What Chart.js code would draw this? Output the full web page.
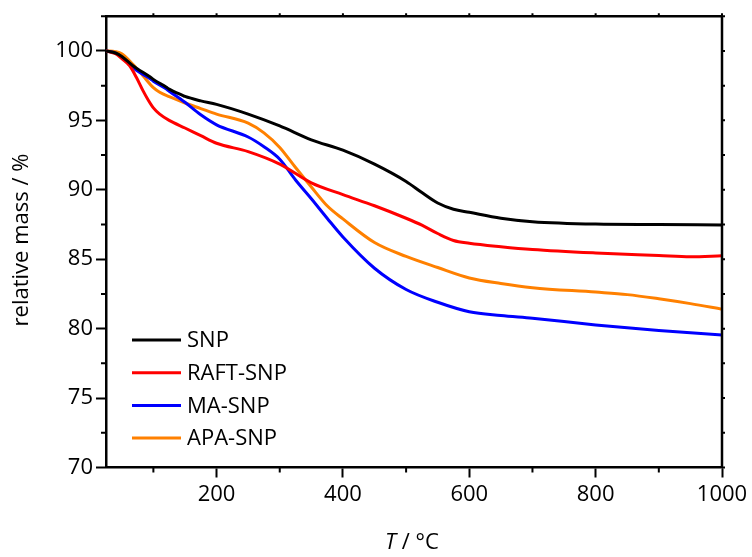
<!DOCTYPE html>
<html><head><meta charset="utf-8">
<script src="https://cdn.jsdelivr.net/npm/chart.js@4/dist/chart.umd.min.js"></script>
<style>html,body{margin:0;padding:0;background:#fff}#wrap{width:752px;height:557px}</style>
</head><body><div id="wrap"><canvas id="c" width="752" height="557"></canvas></div>
<script>
const seriesNames = ["SNP", "RAFT-SNP", "MA-SNP", "APA-SNP"];
const xTickValues = [200, 400, 600, 800, 1000];
const xMinorValues = [100, 300, 500, 700, 900];
const yTickValues = [70, 75, 80, 85, 90, 95, 100];
const yMinorValues = [72.5, 77.5, 82.5, 87.5, 92.5, 97.5, 102.5];

const snpT    = [25, 40, 50, 67.5, 75, 95, 100, 120, 125, 147, 150, 175, 200, 250, 300, 350, 400, 450, 500, 525, 550, 575, 600, 650, 700, 800, 900, 1000];
const snpMass = [100.0, 99.85, 99.6, 98.93, 98.7, 98.12, 97.95, 97.4, 97.25, 96.78, 96.72, 96.4, 96.15, 95.45, 94.6, 93.6, 92.85, 91.85, 90.6, 89.8, 89.05, 88.6, 88.38, 87.95, 87.7, 87.53, 87.5, 87.47];

const raftT    = [25, 40, 50, 62.5, 73, 83.5, 92, 100, 110, 125, 150, 175, 200, 250, 300, 350, 400, 450, 500, 525, 550, 575, 600, 650, 700, 800, 900, 950, 1000];
const raftMass = [100.0, 99.8, 99.45, 98.93, 98.1, 97.14, 96.45, 95.9, 95.45, 95.0, 94.45, 93.9, 93.35, 92.75, 91.85, 90.5, 89.65, 88.85, 87.95, 87.45, 86.85, 86.35, 86.15, 85.9, 85.7, 85.45, 85.27, 85.18, 85.25];

const maT    = [25, 40, 50, 67.5, 75, 95, 100, 120, 125, 147, 150, 175, 200, 250, 275, 300, 325, 350, 375, 400, 450, 500, 550, 600, 650, 700, 800, 900, 1000];
const maMass = [100.0, 99.85, 99.55, 98.82, 98.55, 98.0, 97.82, 97.27, 97.1, 96.4, 96.3, 95.4, 94.68, 93.8, 93.1, 92.2, 90.7, 89.35, 87.95, 86.6, 84.35, 82.82, 81.9, 81.22, 80.95, 80.75, 80.27, 79.87, 79.55];

const apaT    = [25, 40, 50, 67.5, 75, 83.5, 100, 110, 125, 150, 175, 200, 250, 275, 300, 325, 350, 375, 400, 450, 500, 550, 600, 650, 700, 800, 850, 900, 950, 1000];
const apaMass = [100.0, 99.95, 99.8, 99.04, 98.66, 98.21, 97.35, 97.02, 96.7, 96.25, 95.85, 95.45, 94.8, 94.1, 93.05, 91.6, 90.2, 88.85, 87.9, 86.2, 85.2, 84.4, 83.65, 83.25, 82.95, 82.63, 82.45, 82.15, 81.8, 81.4];

const colors = ["#000000", "#ff0000", "#0000ff", "#ff8000"];
const xs = [snpT, raftT, maT, apaT];
const ys = [snpMass, raftMass, maMass, apaMass];

const FONT = "'Open Sans', 'DejaVu Sans', sans-serif";

const datasets = seriesNames.map((name, i) => ({
  label: name,
  data: xs[i].map((t, k) => ({x: t, y: ys[i][k]})),
  borderColor: colors[i],
  backgroundColor: colors[i],
  borderWidth: 3,
  pointRadius: 0,
  fill: false,
  cubicInterpolationMode: 'monotone'
}));

const decor = {
  id: 'decor',
  afterDraw(chart) {
    const ctx = chart.ctx;
    const a = chart.chartArea;
    const sx = chart.scales.x, sy = chart.scales.y;
    ctx.save();
    ctx.strokeStyle = '#000';
    ctx.lineWidth = 2.5;
    ctx.beginPath();
    ctx.moveTo(a.left, a.top); ctx.lineTo(a.right, a.top);
    ctx.moveTo(a.right, a.top); ctx.lineTo(a.right, a.bottom);
    ctx.stroke();
    ctx.lineWidth = 2;
    ctx.beginPath();
    xMinorValues.forEach(v => { const p = sx.getPixelForValue(v); ctx.moveTo(p, a.bottom); ctx.lineTo(p, a.bottom + 5); });
    yMinorValues.forEach(v => { const p = sy.getPixelForValue(v); if (p >= a.top - 1) { ctx.moveTo(a.left, p); ctx.lineTo(a.left - 5, p); } });
    xTickValues.concat(xMinorValues).forEach(v => { const p = sx.getPixelForValue(v); ctx.moveTo(p, a.top); ctx.lineTo(p, a.top - 3); });
    yTickValues.concat(yMinorValues).forEach(v => { const p = sy.getPixelForValue(v); if (p >= a.top - 1) { ctx.moveTo(a.right, p); ctx.lineTo(a.right + 3, p); } });
    ctx.stroke();

    ctx.font = "22px " + FONT;
    ctx.textBaseline = 'middle';
    ctx.textAlign = 'left';
    chart.data.datasets.forEach((ds, i) => {
      const y = 340 + i * 32.7;
      ctx.strokeStyle = ds.borderColor;
      ctx.lineWidth = 3;
      ctx.beginPath(); ctx.moveTo(132, y); ctx.lineTo(181, y); ctx.stroke();
      ctx.fillStyle = '#000';
      ctx.fillText(ds.label, 187, y + 1);
    });

    ctx.save();
    ctx.translate(22, 240);
    ctx.rotate(-Math.PI / 2);
    ctx.textAlign = 'center';
    ctx.textBaseline = 'middle';
    ctx.fillStyle = '#000';
    ctx.font = "22px " + FONT;
    ctx.fillText("relative mass / %", 0, 0);
    ctx.restore();

    ctx.textBaseline = 'middle';
    ctx.fillStyle = '#000';
    const part1 = "T", part2 = " / °C";
    ctx.font = "italic 22px " + FONT;
    const w1 = ctx.measureText(part1).width;
    ctx.font = "22px " + FONT;
    const w2 = ctx.measureText(part2).width;
    const x0 = 412 - (w1 + w2) / 2;
    ctx.textAlign = 'left';
    ctx.font = "italic 22px " + FONT;
    ctx.fillText(part1, x0, 543);
    ctx.font = "22px " + FONT;
    ctx.fillText(part2, x0 + w1, 543);
    ctx.restore();
  }
};

new Chart(document.getElementById('c'), {
  type: 'line',
  data: { datasets },
  options: {
    responsive: false,
    animation: false,
    layout: { padding: { top: 13, right: 30, left: 0, bottom: 0 } },
    plugins: { legend: { display: false }, tooltip: { enabled: false } },
    scales: {
      x: {
        type: 'linear', min: 25, max: 1000,
        afterBuildTicks: s => { s.ticks = xTickValues.map(v => ({value: v})); },
        afterFit: s => { s.height = 89.5; },
        ticks: { color: '#000', font: { family: FONT, size: 22 }, padding: 4, maxRotation: 0, callback: v => String(v) },
        grid: { drawOnChartArea: false, tickLength: 10, tickWidth: 2, tickColor: '#000' },
        border: { display: true, color: '#000', width: 2.5 }
      },
      y: {
        type: 'linear', min: 70, max: 102.5,
        afterBuildTicks: s => { s.ticks = yTickValues.map(v => ({value: v})); },
        afterFit: s => { s.width = 106; },
        ticks: { color: '#000', font: { family: FONT, size: 22 }, padding: 3, callback: v => String(v) },
        grid: { drawOnChartArea: false, tickLength: 10, tickWidth: 2, tickColor: '#000' },
        border: { display: true, color: '#000', width: 2.5 }
      }
    }
  },
  plugins: [decor]
});
</script></body></html>
